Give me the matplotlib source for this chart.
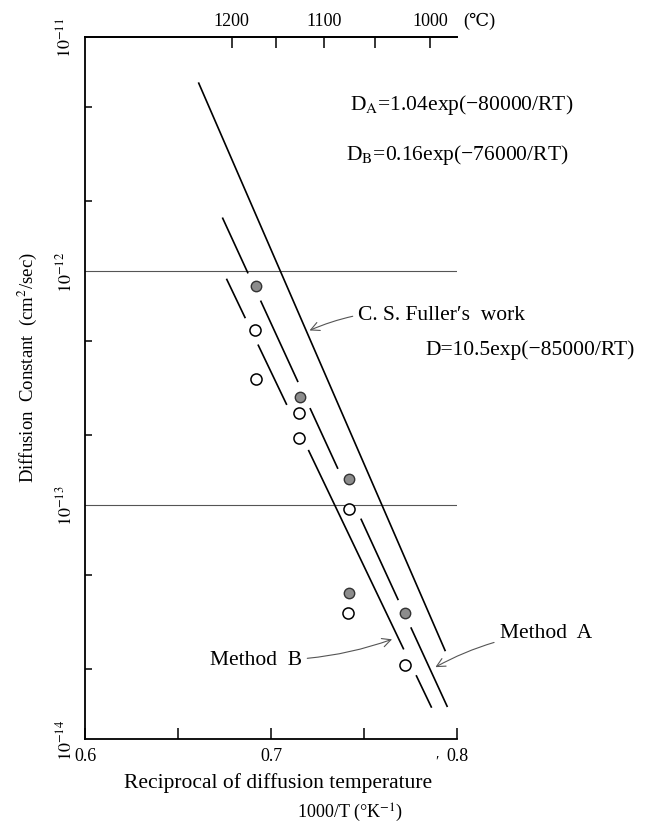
import numpy as np
import matplotlib
matplotlib.use("Agg")
import matplotlib.pyplot as plt
from matplotlib import transforms
from matplotlib.ticker import LogLocator, NullFormatter

plt.rcParams['font.family'] = ['Liberation Serif', 'DejaVu Serif', 'DejaVu Sans']
plt.rcParams['mathtext.fontset'] = 'stix'

# values: x = 1000/T (1/K), y = D (cm2/sec)
filled_x = [0.6918, 0.7158, 0.7420, 0.7420, 0.7722]
filled_y = [8.6e-13, 2.9e-13, 1.29e-13, 4.2e-14, 3.45e-14]
open_x = [0.6911, 0.6920, 0.7153, 0.7151, 0.7420, 0.7413, 0.7722]
open_y = [5.6e-13, 3.45e-13, 2.47e-13, 1.93e-13, 9.6e-14, 3.47e-14, 2.08e-14]

# straight lines (end points)
fuller_x = [0.6611, 0.7936]
fuller_y = [6.35e-12, 2.39e-14]
method_a_x = [0.6740, 0.7947]
method_a_y = [1.68e-12, 1.38e-14]
method_b_x = [0.6762, 0.7862]
method_b_y = [9.2e-13, 1.37e-14]

celsius_ticks = [1200, 1150, 1100, 1050, 1000]
celsius_labels = ['1200', '', '1100', '', '1000']
x_ticks = [0.6, 0.65, 0.7, 0.75, 0.8]
x_labels = ['0.6', '', '0.7', '', '0.8']
y_ticks = [1e-14, 1e-13, 1e-12, 1e-11]
y_labels = [r'$10^{-14}$', r'$10^{-13}$', r'$10^{-12}$', r'$10^{-11}$']


def broken_line(ax, xs, ys, pts_x, pts_y, near=8.0, gap=15.5):
    """Draw a straight line leaving a small gap where it runs through a point."""
    x = np.linspace(xs[0], xs[1], 800)
    y = 10 ** np.interp(x, xs, np.log10(ys))
    line_d = ax.transData.transform(np.column_stack([x, y]))
    p0, p1 = line_d[0], line_d[-1]
    u = (p1 - p0) / np.hypot(*(p1 - p0))
    keep = np.ones(len(x), bool)
    for px, py in zip(pts_x, pts_y):
        pd = ax.transData.transform((px, py))
        rel = pd - p0
        perp = abs(rel[0] * u[1] - rel[1] * u[0])
        if perp < near:
            dist = np.hypot(*(line_d - pd).T)
            keep &= dist > gap
    y = np.where(keep, y, np.nan)
    ax.plot(x, y, color='black', lw=1.2, zorder=2)


fig = plt.figure(figsize=(6.5, 8.28), dpi=100)
ax = fig.add_axes([0.131, 0.1063, 0.572, 0.8478])
ax.set_yscale('log')
ax.set_xlim(0.6, 0.8)
ax.set_ylim(1e-14, 1e-11)

# frame
ax.spines['right'].set_visible(False)
for s in ['left', 'bottom', 'top']:
    ax.spines[s].set_linewidth(1.3)

ax.set_xticks(x_ticks)
ax.set_xticklabels(x_labels)
ax.tick_params(axis='x', direction='in', length=8, width=1.1, labelsize=13, pad=6)
ax.set_yticks(y_ticks)
ax.set_yticklabels(y_labels, rotation=90, va='center')
ax.yaxis.set_minor_locator(LogLocator(base=10, subs=[2, 5]))
ax.yaxis.set_minor_formatter(NullFormatter())
ax.tick_params(axis='y', which='major', length=0, labelsize=13, pad=7)
ax.tick_params(axis='y', which='minor', direction='in', length=5, width=1.1)

# top axis in degrees Celsius
top = ax.secondary_xaxis('top', functions=(lambda v: 1000.0 / v - 273.0,
                                            lambda c: 1000.0 / (c + 273.0)))
top.set_xticks(celsius_ticks)
top.set_xticklabels(celsius_labels)
top.tick_params(direction='in', length=8, width=1.1, labelsize=13, pad=6)
top.spines['top'].set_linewidth(1.3)
blend = transforms.blended_transform_factory(ax.transData, ax.transAxes)
ax.text(0.8035, 1.012, '(℃)', transform=blend, fontsize=13, va='bottom', ha='left')

# reference lines at 1e-12 and 1e-13
for yv in y_ticks[1:3]:
    ax.axhline(yv, color='#555555', lw=0.8, zorder=1)

# fitted lines
ax.plot(fuller_x, fuller_y, color='black', lw=1.2, zorder=2)
broken_line(ax, method_a_x, method_a_y, filled_x + open_x, filled_y + open_y)
broken_line(ax, method_b_x, method_b_y, open_x, open_y)

# measured points
ax.plot(open_x, open_y, 'o', ms=8, mfc='white', mec='black', mew=1.1, zorder=3)
ax.plot(filled_x, filled_y, 'o', ms=7.5, mfc='#8c8c8c', mec='#333333', mew=1.0, zorder=3)

# equations and notes
fs = 15.5
ax.text(0.7425, 10 ** -11.286, r'D$_{\rm A}$=1.04exp(−80000/RT)', fontsize=fs, va='center')
ax.text(0.7405, 10 ** -11.50, r'D$_{\rm B}$=0.16exp(−76000/RT)', fontsize=fs, va='center')
ax.text(0.7829, 10 ** -12.336, 'D=10.5exp(−85000/RT)', fontsize=fs, va='center')

arrow = dict(arrowstyle='->', lw=0.8, color='#555555', shrinkA=2, shrinkB=0)
ax.annotate('C. S. Fuller′s  work', xy=(0.7207, 10 ** -12.254),
            xytext=(0.7469, 10 ** -12.186), fontsize=fs, va='center', ha='left',
            arrowprops=dict(arrow, connectionstyle='arc3,rad=0.15'))
ax.annotate('Method  A', xy=(0.7884, 10 ** -13.693),
            xytext=(0.8229, 10 ** -13.543), fontsize=fs, va='center', ha='left',
            annotation_clip=False,
            arrowprops=dict(arrow, connectionstyle='arc3,rad=0.1'))
ax.annotate('Method  B', xy=(0.7651, 10 ** -13.574),
            xytext=(0.7165, 10 ** -13.66), fontsize=fs, va='center', ha='right',
            arrowprops=dict(arrow, connectionstyle='arc3,rad=0.1'))

# axis labels
ax.set_ylabel('Diffusion  Constant  (cm$^2$/sec)', fontsize=13.5)
ax.yaxis.set_label_coords(-0.125, 0.53)
fig.text(278 / 650, 1 - 783 / 828, 'Reciprocal of diffusion temperature', fontsize=fs,
         ha='center', va='center')
fig.text(350 / 650, 1 - 813 / 828, '1000/T (°K$^{-1}$)', fontsize=13, ha='center', va='center')
fig.text(437 / 650, 1 - 762 / 828, '′', fontsize=11, ha='center', va='center')

fig.savefig('out.png', dpi=100)
